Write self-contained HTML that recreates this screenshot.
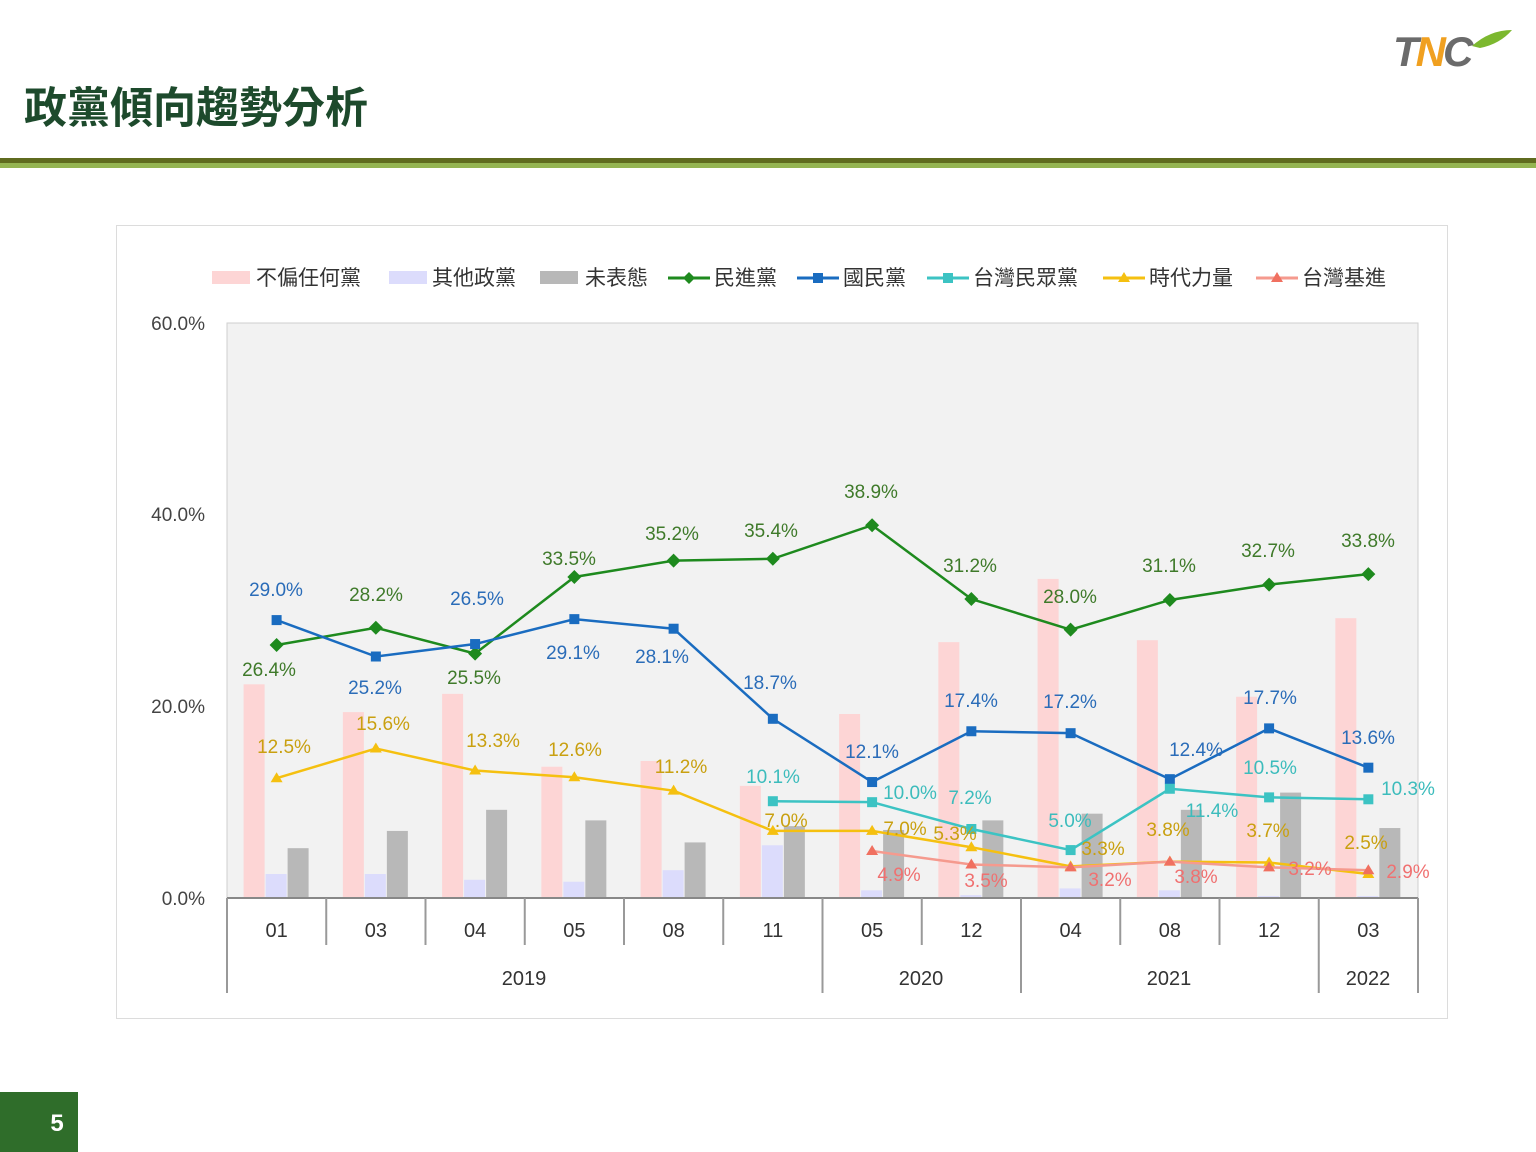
<!DOCTYPE html>
<html><head><meta charset="utf-8"><style>
body{margin:0;width:1536px;height:1152px;background:#fff;overflow:hidden;position:relative;font-family:"Liberation Sans","Noto Sans CJK TC",sans-serif}
svg{position:absolute;left:0;top:0}
</style></head><body>
<svg width="1536" height="1152" viewBox="0 0 1536 1152" font-family="Liberation Sans, Noto Sans CJK TC, sans-serif">
<text x="24" y="123" font-size="43" font-weight="bold" fill="#1d4a2c" font-family="Noto Sans CJK TC, sans-serif">政黨傾向趨勢分析</text>
<text x="1393" y="66" font-size="42" font-weight="bold" font-style="italic" fill="#6b6b6b" letter-spacing="-3">T<tspan fill="#f0a020">N</tspan>C</text>
<path d="M1472 46 Q1490 30 1512 30 Q1500 44 1480 48Z" fill="#7cb82f"/>
<rect x="0" y="158" width="1536" height="5" fill="#5f6b1f"/>
<rect x="0" y="163" width="1536" height="5" fill="#94b452"/>
<rect x="0" y="1092" width="78" height="60" fill="#2f6d2a"/>
<text x="57" y="1131" font-size="24" font-weight="bold" fill="#fff" text-anchor="middle">5</text>
<rect x="116.5" y="225.5" width="1331" height="793" fill="#fff" stroke="#dcdcdc"/>
<g font-size="21" fill="#333" font-family="Noto Sans CJK TC, sans-serif">
<rect x="212" y="271" width="38" height="13" fill="#fdd5d5"/><text x="256" y="285">不偏任何黨</text>
<rect x="389" y="271" width="38" height="13" fill="#dcdcfc"/><text x="432" y="285">其他政黨</text>
<rect x="540" y="271" width="38" height="13" fill="#b8b8b8"/><text x="585" y="285">未表態</text>
<line x1="668" y1="278" x2="710" y2="278" stroke="#1e8a1e" stroke-width="3"/><path d="M689 272l6 6-6 6-6-6z" fill="#1e8a1e"/><text x="714" y="285">民進黨</text>
<line x1="797" y1="278" x2="839" y2="278" stroke="#1a6cc0" stroke-width="3"/><rect x="813" y="273" width="10" height="10" fill="#1a6cc0"/><text x="843" y="285">國民黨</text>
<line x1="927" y1="278" x2="969" y2="278" stroke="#3cc3c3" stroke-width="3"/><rect x="943" y="273" width="10" height="10" fill="#3cc3c3"/><text x="973" y="285">台灣民眾黨</text>
<line x1="1103" y1="278" x2="1145" y2="278" stroke="#f5c010" stroke-width="3"/><path d="M1124 272l6 10h-12z" fill="#f5c010"/><text x="1149" y="285">時代力量</text>
<line x1="1256" y1="278" x2="1298" y2="278" stroke="#f59a8e" stroke-width="3"/><path d="M1277 272l6 10h-12z" fill="#f07060"/><text x="1302" y="285">台灣基進</text>
</g>
<rect x="227" y="323" width="1191" height="575" fill="#f2f2f2" stroke="#cfcfcf"/>
<g font-size="19" fill="#444" text-anchor="end">
<text x="205" y="330">60.0%</text><text x="205" y="521">40.0%</text><text x="205" y="713">20.0%</text><text x="205" y="905">0.0%</text>
</g>
<g id="bars"></g>
<g id="lines"></g>
<g id="labels" font-size="19"></g>
<line x1="227" y1="898" x2="1418" y2="898" stroke="#888" stroke-width="2"/>
<g stroke="#999" stroke-width="2" id="ticks"></g>
<g font-size="20" fill="#333" text-anchor="middle" id="xl"></g>
<g font-size="20" fill="#333" text-anchor="middle">
<text x="524" y="985">2019</text><text x="921" y="985">2020</text><text x="1169" y="985">2021</text><text x="1368" y="985">2022</text>
</g>
</svg>
<script>
const ns="http://www.w3.org/2000/svg";
function el(p,t,a,txt){const e=document.createElementNS(ns,t);for(const k in a)e.setAttribute(k,a[k]);if(txt)e.textContent=txt;document.getElementById(p).appendChild(e);return e;}
const cx=i=>276.6+i*99.25, Y=v=>898-v*9.583;
const months=["01","03","04","05","08","11","05","12","04","08","12","03"];
for(let i=0;i<12;i++){el("xl","text",{x:cx(i),y:937},months[i]);}
for(let i=0;i<=12;i++){const x=227+i*99.25;const big=[0,6,8,11,12].includes(i);el("ticks","line",{x1:x,y1:898,x2:x,y2:big?993:945});}
const pink=[22.3,19.4,21.3,13.7,14.3,11.7,19.2,26.7,33.3,26.9,21,29.2];
const lav=[2.5,2.5,1.9,1.7,2.9,5.5,0.8,0.3,1.0,0.8,0.2,0.2];
const gray=[5.2,7.0,9.2,8.1,5.8,7.5,7.1,8.1,8.8,9.2,11.0,7.3];
for(let i=0;i<12;i++){
 el("bars","rect",{x:cx(i)-33,y:Y(pink[i]),width:21,height:pink[i]*9.583,fill:"#fdd5d5"});
 el("bars","rect",{x:cx(i)-11,y:Y(lav[i]),width:21,height:lav[i]*9.583,fill:"#dcdcfc"});
 el("bars","rect",{x:cx(i)+11,y:Y(gray[i]),width:21,height:gray[i]*9.583,fill:"#b8b8b8"});
}
const S=[
 {c:"#1e8a1e",m:"d",s:0,v:[26.4,28.2,25.5,33.5,35.2,35.4,38.9,31.2,28.0,31.1,32.7,33.8]},
 {c:"#1a6cc0",m:"s",s:0,v:[29.0,25.2,26.5,29.1,28.1,18.7,12.1,17.4,17.2,12.4,17.7,13.6]},
 {c:"#3cc3c3",m:"s",s:5,v:[10.1,10.0,7.2,5.0,11.4,10.5,10.3]},
 {c:"#f5c010",m:"t",s:0,v:[12.5,15.6,13.3,12.6,11.2,7.0,7.0,5.3,3.3,3.8,3.7,2.5]},
 {c:"#f59a8e",m:"t",s:6,v:[4.9,3.5,3.2,3.8,3.2,2.9],mc:"#f07060"}];
for(const s of S){
 const pts=s.v.map((v,j)=>[cx(j+s.s),Y(v)]);
 el("lines","polyline",{points:pts.map(p=>p.join(",")).join(" "),fill:"none",stroke:s.c,"stroke-width":2.5});
 for(const [x,y] of pts){const f=s.mc||s.c;
  if(s.m=="d")el("lines","path",{d:`M${x} ${y-7}l7 7-7 7-7-7z`,fill:f});
  else if(s.m=="s")el("lines","rect",{x:x-5,y:y-5,width:10,height:10,fill:f});
  else el("lines","path",{d:`M${x} ${y-6}l6 10h-12z`,fill:f});}
}
const L=[
["#3f7a2a",[[269,669,"26.4%"],[376,594,"28.2%"],[474,677,"25.5%"],[569,558,"33.5%"],[672,533,"35.2%"],[771,530,"35.4%"],[871,491,"38.9%"],[970,565,"31.2%"],[1070,596,"28.0%"],[1169,565,"31.1%"],[1268,550,"32.7%"],[1368,540,"33.8%"]]],
["#2a6cb8",[[276,589,"29.0%"],[375,687,"25.2%"],[477,598,"26.5%"],[573,652,"29.1%"],[662,656,"28.1%"],[770,682,"18.7%"],[872,751,"12.1%"],[971,700,"17.4%"],[1070,701,"17.2%"],[1196,749,"12.4%"],[1270,697,"17.7%"],[1368,737,"13.6%"]]],
["#3cbcbc",[[773,776,"10.1%"],[910,792,"10.0%"],[970,797,"7.2%"],[1070,820,"5.0%"],[1212,810,"11.4%"],[1270,767,"10.5%"],[1408,788,"10.3%"]]],
["#c9a010",[[284,746,"12.5%"],[383,723,"15.6%"],[493,740,"13.3%"],[575,749,"12.6%"],[681,766,"11.2%"],[786,820,"7.0%"],[905,828,"7.0%"],[955,833,"5.3%"],[1103,848,"3.3%"],[1168,829,"3.8%"],[1268,830,"3.7%"],[1366,842,"2.5%"]]],
["#f07070",[[899,874,"4.9%"],[986,880,"3.5%"],[1110,879,"3.2%"],[1196,876,"3.8%"],[1310,868,"3.2%"],[1408,871,"2.9%"]]]];
for(const [c,a] of L)for(const [x,y,t] of a)el("labels","text",{x:x,y:y+7,fill:c,"text-anchor":"middle"},t);
</script>
</body></html>
